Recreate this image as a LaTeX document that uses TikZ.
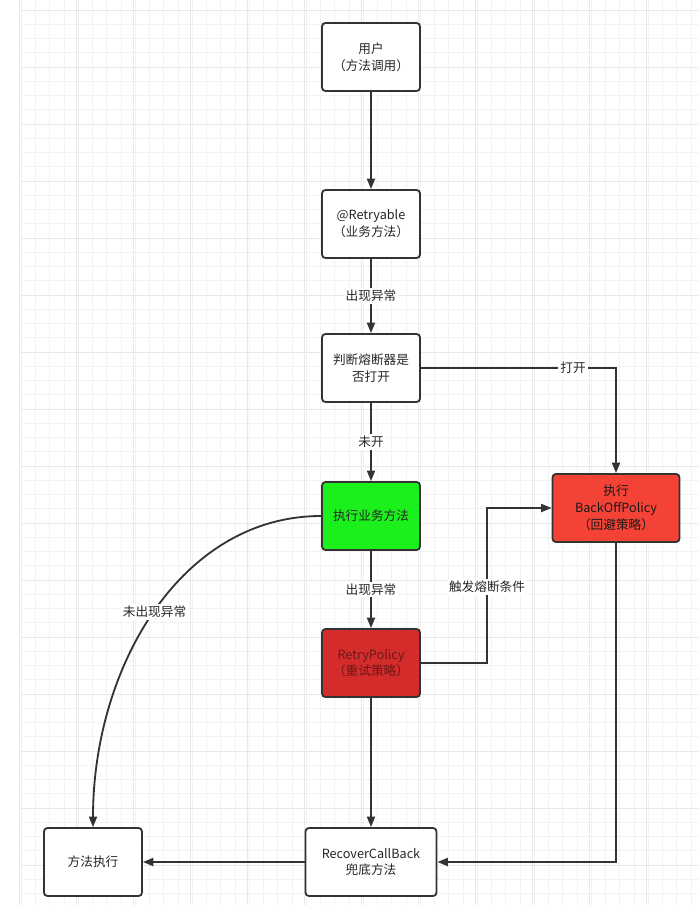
\documentclass[tikz,border=0pt]{standalone}
\usepackage{fontspec}
\setmainfont{Noto Sans CJK SC}
\usepackage{tikz}
\usetikzlibrary{arrows.meta}

\definecolor{linegray}{HTML}{333333}
\definecolor{okgreen}{RGB}{28,240,28}
\definecolor{retryred}{HTML}{D42B2B}
\definecolor{retrytext}{HTML}{6E1818}
\definecolor{backoffred}{HTML}{F44336}

\tikzset{
  box/.style={draw=linegray, line width=1.3pt, rounded corners=2.5pt, fill=white,
    minimum width=2.45cm, minimum height=1.7cm, align=center, inner sep=2pt,
    text=black!85},
  flow/.style={draw=linegray, line width=1.3pt, -{Triangle[length=0.26cm,width=0.2cm]}},
  elabel/.style={fill=white, inner sep=1.5pt, text=black!85}
}

\begin{document}
\begin{tikzpicture}[x=0.025cm, y=-0.025cm, font=\fontsize{9}{12}\selectfont]
  \useasboundingbox (0,0) rectangle (699,907);
  % background grid
  \foreach \gx in {21.25,35.5,...,699} \draw[gray!10, line width=0.5pt] (\gx,0) -- (\gx,905);
  \foreach \gy in {10,24.25,...,905} \draw[gray!10, line width=0.5pt] (21,\gy) -- (699,\gy);
  \foreach \gx in {19,76,...,699} \draw[gray!18, line width=0.7pt] (\gx,0) -- (\gx,905);
  \foreach \gy in {10,67,...,905} \draw[gray!18, line width=0.7pt] (21,\gy) -- (699,\gy);

  % nodes
  \node[box] (user) at (371,57) {用户\\（方法调用）};
  \node[box] (retryable) at (371,224) {@Retryable\\（业务方法）};
  \node[box] (judge) at (371,368) {判断熔断器是\\否打开};
  \node[box, fill=okgreen] (exec) at (371,516) {执行业务方法};
  \node[box, fill=retryred, text=retrytext] (retry) at (371,663) {RetryPolicy\\（重试策略）};
  \node[box, fill=backoffred, minimum width=3.175cm, text=black!90] (backoff) at (616,508) {执行\\BackOffPolicy\\（回避策略）};
  \node[box] (done) at (93,862) {方法执行};
  \node[box, minimum width=3.275cm] (recover) at (371,862) {RecoverCallBack\\兜底方法};
  \coordinate (trig) at (487,587);

  % connectors
  \draw[flow] (user) -- (retryable);
  \draw[flow] (retryable) -- node[elabel]{出现异常} (judge);
  \draw[flow] (judge) -- node[elabel]{未开} (exec);
  \draw[flow] (judge.east) -| node[elabel, pos=0.39]{打开} (backoff.north);
  \draw[flow] (exec) -- node[elabel]{出现异常} (retry);
  \draw[flow] (retry.east) -| (trig) |- (backoff.west);
  \node[elabel] (triglabel) at (trig) {触发熔断条件};
  \draw[flow] (exec.west) .. controls +(-140,0) and +(0,-160) .. node[elabel, pos=0.5]{未出现异常} (done.north);
  \draw[flow] (retry) -- (recover);
  \draw[flow] (backoff.south) |- (recover.east);
  \draw[flow] (recover) -- (done);
\end{tikzpicture}
\end{document}
